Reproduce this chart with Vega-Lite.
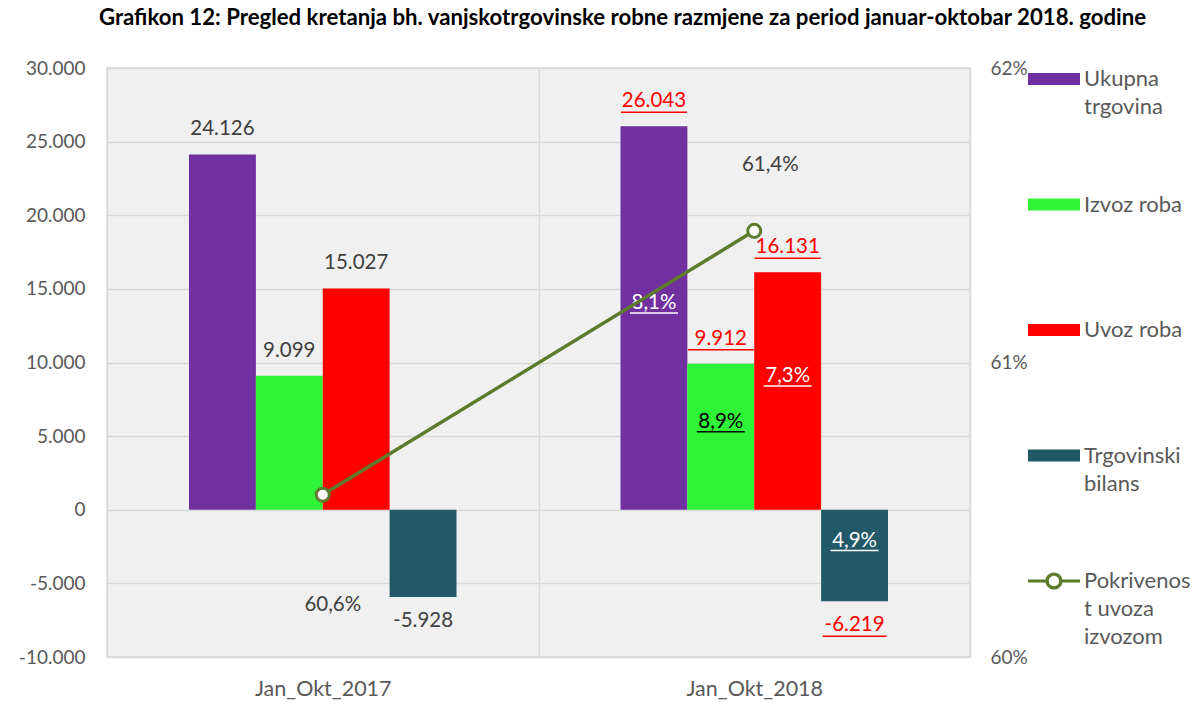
{
  "$schema": "https://vega.github.io/schema/vega-lite/v6.json",
  "width": 863,
  "height": 589,
  "autosize": {"type": "none"},
  "padding": {"left": 107, "top": 68, "right": 228, "bottom": 56},
  "background": "white",
  "config": {
    "font": "Lato",
    "view": {"stroke": "#d9d9d9", "strokeWidth": 1.5, "fill": "#f0f0f0"},
    "locale": {"number": {"decimal": ",", "thousands": ".", "grouping": [3], "currency": ["", ""], "minus": "-", "percent": "%"}}
  },
  "title": {
    "text": "Grafikon 12: Pregled kretanja bh. vanjskotrgovinske robne razmjene za period januar-oktobar 2018. godine",
    "anchor": "middle",
    "frame": "group",
    "dx": 84,
    "offset": 24,
    "limit": 1190,
    "fontSize": 22.2,
    "fontWeight": "bold",
    "color": "black",
    "font": "Lato"
  },
  "datasets": {
    "bars": [
      {"period": "Jan_Okt_2017", "series": "Ukupna trgovina", "value": 24126},
      {"period": "Jan_Okt_2017", "series": "Izvoz roba", "value": 9099},
      {"period": "Jan_Okt_2017", "series": "Uvoz roba", "value": 15027},
      {"period": "Jan_Okt_2017", "series": "Trgovinski bilans", "value": -5928},
      {"period": "Jan_Okt_2018", "series": "Ukupna trgovina", "value": 26043, "g": "8,1%"},
      {"period": "Jan_Okt_2018", "series": "Izvoz roba", "value": 9912, "g": "8,9%"},
      {"period": "Jan_Okt_2018", "series": "Uvoz roba", "value": 16131, "g": "7,3%"},
      {"period": "Jan_Okt_2018", "series": "Trgovinski bilans", "value": -6219, "g": "4,9%"}
    ],
    "line": [
      {"period": "Jan_Okt_2017", "pct": 0.60551},
      {"period": "Jan_Okt_2018", "pct": 0.61447}
    ]
  },
  "encoding": {
    "x": {
      "field": "period", "type": "nominal",
      "scale": {"paddingInner": 0, "paddingOuter": 0},
      "axis": {
        "title": null, "labelAngle": 0, "labelFontSize": 21.5, "labelColor": "#595959",
        "ticks": false, "domain": false, "grid": true, "tickBand": "extent",
        "gridColor": "#d9d9d9", "gridWidth": 1.5, "labelPadding": 21
      }
    }
  },
  "layer": [
    {
      "data": {"name": "bars"},
      "encoding": {
        "xOffset": {
          "field": "series", "type": "nominal",
          "scale": {"domain": ["_a", "Ukupna trgovina", "Izvoz roba", "Uvoz roba", "Trgovinski bilans", "_b"], "paddingInner": 0, "paddingOuter": 0.226}
        },
        "y": {
          "field": "value", "type": "quantitative",
          "scale": {"domain": [-10000, 30000], "nice": false, "zero": false},
          "axis": {
            "title": null, "values": [-10000, -5000, 0, 5000, 10000, 15000, 20000, 25000, 30000],
            "format": ",d", "labelFontSize": 19, "labelColor": "#595959", "ticks": false, "domain": false,
            "grid": true, "gridColor": "#d9d9d9", "gridWidth": 1.5, "labelPadding": 22
          }
        }
      },
      "layer": [
        {
          "mark": {"type": "bar"},
          "encoding": {
            "color": {
              "field": "series", "type": "nominal",
              "scale": {
                "domain": ["Ukupna trgovina", "Izvoz roba", "Uvoz roba", "Trgovinski bilans", "Pokrivenost uvoza izvozom"],
                "range": ["#7030a0", "#2ef337", "#ff0000", "#215968", "#5e7b2c"]
              },
              "legend": {
                "title": null,
                "orient": "none",
                "legendX": 921,
                "legendY": -15,
                "direction": "vertical",
                "symbolSize": 2704,
                "symbolStrokeWidth": 0,
                "symbolOffset": 0,
                "labelFontSize": 22,
                "labelColor": "#595959",
                "labelBaseline": "top",
                "labelOffset": 4,
                "labelLimit": 200,
                "rowPadding": 32.5,
                "padding": 0,
                "labelExpr": "datum.label == 'Ukupna trgovina' ? ['Ukupna', 'trgovina', ' '] : datum.label == 'Trgovinski bilans' ? ['Trgovinski', 'bilans', ' '] : datum.label == 'Pokrivenost uvoza izvozom' ? ['Pokrivenos', 't uvoza', 'izvozom'] : [datum.label, ' ', ' ']",
                "encode": {
                  "symbols": {
                    "update": {
                      "shape": {"signal": "datum.value === 'Pokrivenost uvoza izvozom' ? 'M-1,-0.06H-0.28V0.06H-1Z M0.28,-0.06H1V0.06H0.28Z M-0.33,0A0.33,0.33 0 1,1 0.33,0A0.33,0.33 0 1,1 -0.33,0Z M-0.2,0A0.2,0.2 0 1,0 0.2,0A0.2,0.2 0 1,0 -0.2,0Z' : 'M-1,-0.23H1V0.23H-1Z'"},
                      "strokeWidth": {"value": 0},
                      "opacity": {"value": 1}
                    }
                  },
                  "labels": {
                    "update": {"dy": {"value": -10}, "lineHeight": {"value": 28}}
                  }
                }
              }
            }
          }
        },
        {
          "transform": [{"filter": "datum.value > 0"}],
          "mark": {"type": "text", "dy": -25, "fontSize": 20.5, "baseline": "middle"},
          "encoding": {
            "text": {"field": "value", "type": "quantitative", "format": ",d"},
            "color": {"condition": {"test": "datum.period == 'Jan_Okt_2018'", "value": "#ff0000"}, "value": "#404040"}
          }
        },
        {
          "transform": [{"filter": "datum.value < 0"}],
          "mark": {"type": "text", "dy": 24, "fontSize": 20.5, "baseline": "middle"},
          "encoding": {
            "text": {"field": "value", "type": "quantitative", "format": ",d"},
            "color": {"condition": {"test": "datum.period == 'Jan_Okt_2018'", "value": "#ff0000"}, "value": "#404040"}
          }
        },
        {
          "transform": [{"filter": "datum.value > 0 && datum.period == 'Jan_Okt_2018'"}],
          "mark": {"type": "tick", "orient": "horizontal", "size": 66, "thickness": 1.5, "yOffset": -14, "color": "#ff0000", "opacity": 1}
        },
        {
          "transform": [{"filter": "datum.value < 0 && datum.period == 'Jan_Okt_2018'"}],
          "mark": {"type": "tick", "orient": "horizontal", "size": 64, "thickness": 1.5, "yOffset": 35, "color": "#ff0000", "opacity": 1}
        },
        {
          "transform": [{"filter": "datum.g != null"}, {"calculate": "datum.value / 2", "as": "mid"}],
          "encoding": {
            "y": {"field": "mid", "type": "quantitative"},
            "color": {"condition": {"test": "datum.series == 'Izvoz roba'", "value": "#000000"}, "value": "#ffffff"}
          },
          "layer": [
            {
              "mark": {"type": "text", "dy": -15, "fontSize": 20.5, "baseline": "middle"},
              "encoding": {"text": {"field": "g", "type": "nominal"}}
            },
            {
              "mark": {"type": "tick", "orient": "horizontal", "size": 48, "thickness": 1.5, "yOffset": -5, "opacity": 1}
            }
          ]
        }
      ]
    },
    {
      "data": {"name": "line"},
      "encoding": {
        "y": {
          "field": "pct", "type": "quantitative",
          "scale": {"domain": [0.6, 0.62], "nice": false, "zero": false},
          "axis": {
            "orient": "right", "title": null, "values": [0.6, 0.61, 0.62], "format": ".0%",
            "labelFontSize": 19, "labelColor": "#595959", "ticks": false, "domain": false, "grid": false, "labelPadding": 20
          }
        }
      },
      "layer": [
        {
          "mark": {"type": "line", "strokeWidth": 3.5},
          "encoding": {"color": {"datum": "Pokrivenost uvoza izvozom", "type": "nominal"}}
        },
        {
          "mark": {"type": "point", "filled": false, "fill": "white", "fillOpacity": 1, "stroke": "#5e7b2c", "strokeWidth": 3, "size": 170, "opacity": 1}
        },
        {
          "transform": [{"filter": "datum.period == 'Jan_Okt_2017'"}],
          "mark": {"type": "text", "dx": 10, "dy": 110, "fontSize": 20.5, "color": "#404040", "baseline": "middle"},
          "encoding": {"text": {"field": "pct", "type": "quantitative", "format": ".1%"}}
        },
        {
          "transform": [{"filter": "datum.period == 'Jan_Okt_2018'"}],
          "mark": {"type": "text", "dx": 16, "dy": -66, "fontSize": 20.5, "color": "#404040", "baseline": "middle"},
          "encoding": {"text": {"field": "pct", "type": "quantitative", "format": ".1%"}}
        }
      ]
    }
  ],
  "resolve": {"scale": {"y": "independent"}}
}
